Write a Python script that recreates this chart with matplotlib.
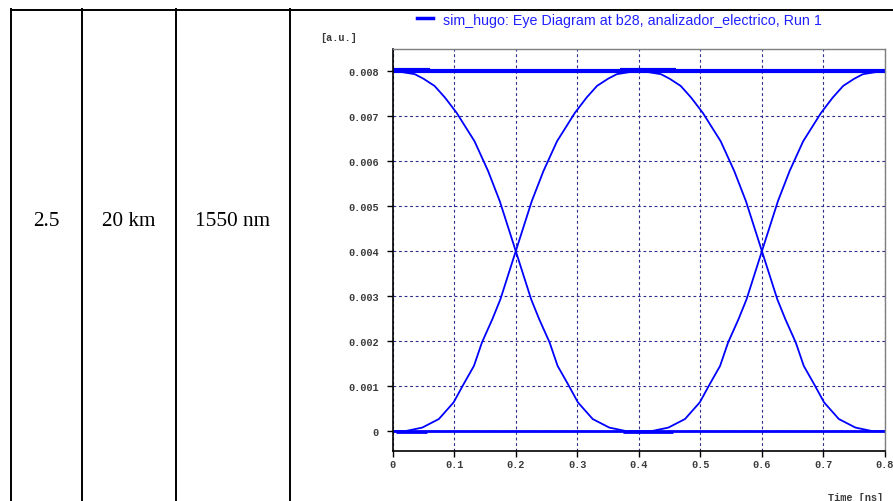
import matplotlib.pyplot as plt
import numpy as np

# Table cells to the left of the eye diagram
cell_texts = ['2.5', '20 km', '1550 nm']
cell_centers_px = [46, 129, 233]
cell_borders_px = [11, 82, 176, 290]

# Rising edge of one bit slot, time in ns, amplitude in a.u.
t_edge = [0.0, 0.02, 0.048, 0.075, 0.099, 0.115, 0.132, 0.145, 0.162, 0.175,
          0.20, 0.226, 0.245, 0.267, 0.296, 0.315, 0.332, 0.35, 0.364, 0.386, 0.40]
v_rise = [0.0, 0.0, 0.00008, 0.00027, 0.00064, 0.00104, 0.00145, 0.00197,
          0.00249, 0.00293, 0.0040, 0.00511, 0.00578, 0.00644, 0.00707,
          0.00741, 0.00767, 0.00783, 0.00793, 0.00798, 0.0080]
slot_offsets = [0.0, 0.4]

# Flat rails (logic 1 and logic 0) and the spots where several traces overlap
rail_high = 0.0080
rail_low = 0.0
overlap_start = [0.0, 0.37]
overlap_end = [0.06, 0.46]
overlap_high = 0.00802
overlap_low = -0.00002

x_ticks = [0, 0.1, 0.2, 0.3, 0.4, 0.5, 0.6, 0.7, 0.8]
y_ticks = [0, 0.001, 0.002, 0.003, 0.004, 0.005, 0.006, 0.007, 0.008]

W, H = 893, 502
fig = plt.figure(figsize=(W / 100, H / 100), dpi=100)

# ---- table frame ----
top_y = 1 - 10.5 / H
fig.add_artist(plt.Line2D([cell_borders_px[0] / W, 1.0], [top_y, top_y],
                          color='black', lw=1.4, transform=fig.transFigure))
for xb in cell_borders_px:
    fig.add_artist(plt.Line2D([xb / W, xb / W], [0, top_y + 0.7 / H],
                              color='black', lw=1.4, transform=fig.transFigure))
for txt, xc in zip(cell_texts, cell_centers_px):
    fig.text(xc / W, 1 - 221 / H, txt, ha='center', va='center',
             fontsize=15.3, family='Liberation Serif', color='black')

# ---- eye diagram ----
ax = fig.add_axes([392.7 / W, 1 - 452 / H, (885 - 392.7) / W, (452 - 50) / H])
blue = '#0000ff'
t_edge = np.array(t_edge)
v_rise = np.array(v_rise)
for off in slot_offsets:
    ax.plot(t_edge + off, v_rise, color=blue, lw=1.3, solid_joinstyle='round')
    ax.plot(0.4 - t_edge + off, v_rise, color=blue, lw=1.3, solid_joinstyle='round')

ax.plot([0, 0.8], [rail_high, rail_high], color=blue, lw=3.0, solid_capstyle='butt')
ax.plot([0, 0.8], [rail_low, rail_low], color=blue, lw=2.0, solid_capstyle='butt')
for s, e in zip(overlap_start, overlap_end):
    ax.plot([s, e], [overlap_high, overlap_high], color=blue, lw=3.0, solid_capstyle='butt')
    ax.plot([s + 0.005, e - 0.005], [overlap_low, overlap_low], color=blue, lw=2.0,
            solid_capstyle='butt')

ax.set_xlim(0, 0.8)
ax.set_ylim(-0.00044, 0.00849)
ax.set_xticks(x_ticks)
ax.set_xticklabels(['0'] + [f'{v:.1f}' for v in x_ticks[1:]])
ax.set_yticks(y_ticks)
ax.set_yticklabels(['0'] + [f'{v:.3f}' for v in y_ticks[1:]])

ax.grid(True, color='#2b2b8c', lw=0.8, linestyle=(0, (2.5, 2.5)))
ax.set_axisbelow(True)

for side in ['left', 'bottom']:
    ax.spines[side].set_color('black')
    ax.spines[side].set_linewidth(1.2)
for side in ['top', 'right']:
    ax.spines[side].set_color('#7f7f7f')
    ax.spines[side].set_linewidth(1.0)

mono = dict(family='Liberation Mono', fontsize=7.4, fontweight='bold', color='#3a3a3a')
ax.tick_params(axis='both', direction='out', length=4, width=1, color='black')
ax.tick_params(axis='x', pad=2)
ax.tick_params(axis='y', pad=6)
for lab in ax.get_xticklabels() + ax.get_yticklabels():
    lab.set_fontfamily(mono['family'])
    lab.set_fontsize(mono['fontsize'])
    lab.set_fontweight(mono['fontweight'])
    lab.set_color(mono['color'])
ax.get_xticklabels()[-1].set_clip_on(False)

fig.text(320 / W, 1 - 38 / H, '[a.u.]', ha='left', va='center', **mono)
fig.text(883 / W, 1 - 498 / H, 'Time [ns]', ha='right', va='center', **mono)

# legend drawn above the axes
fig.add_artist(plt.Line2D([417 / W, 433 / W], [1 - 19 / H, 1 - 19 / H],
                          color=blue, lw=2.5, transform=fig.transFigure))
fig.text(443 / W, 1 - 21 / H, 'sim_hugo: Eye Diagram at b28, analizador_electrico, Run 1',
         ha='left', va='center', fontsize=10.3, family='Liberation Sans', color='#2020ff')

fig.savefig('out.png', dpi=100)
